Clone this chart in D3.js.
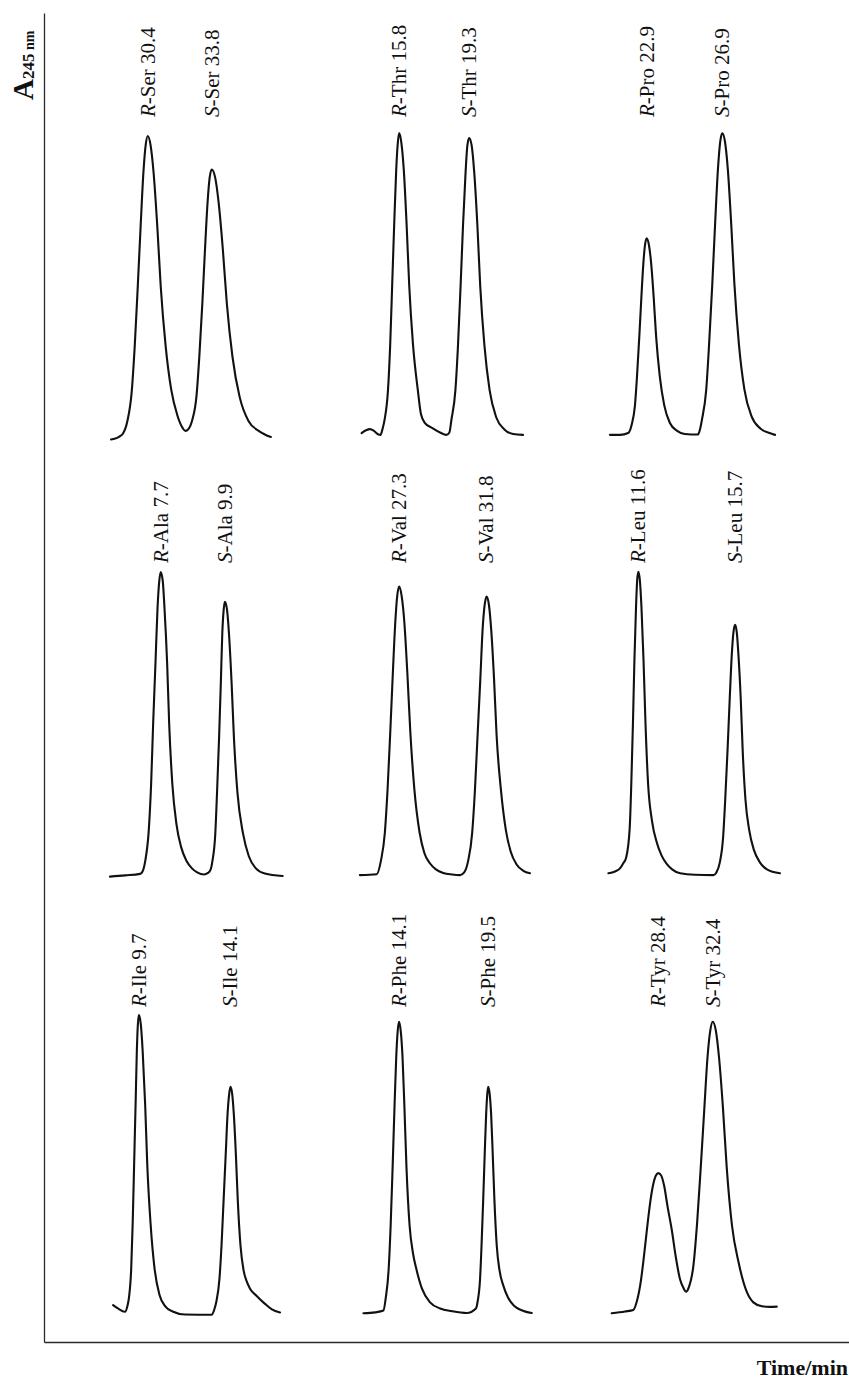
<!DOCTYPE html>
<html><head><meta charset="utf-8">
<script src="https://cdn.jsdelivr.net/npm/d3@7"></script>
<style>
html,body{margin:0;padding:0;background:#fff;}
svg{display:block;}
text{font-family:"Liberation Serif","Times New Roman",serif;fill:#111;}
</style></head><body>
<svg id="chart" width="849" height="1380"></svg>
<script>
// ---- data ----
const amino = ["Ser","Thr","Pro","Ala","Val","Leu","Ile","Phe","Tyr"];
const retR  = [30.4, 15.8, 22.9, 7.7, 27.3, 11.6, 9.7, 14.1, 28.4];
const retS  = [33.8, 19.3, 26.9, 9.9, 31.8, 15.7, 14.1, 19.5, 32.4];
// time window (min) shown in each panel
const timeWindow = [[28.13,37.69],[13.59,22.59],[20.59,30.11],[5.79,11.96],[25.02,34.30],[10.10,17.73],[8.07,16.72],[11.43,22.34],[24.33,37.57]];
// traces: [time (min), relative A245]
const traceSer = [[28.45,-0.8],[28.77,-0.3],[28.93,0.3],[29.07,1],[29.31,5],[29.55,15],[29.71,30],[29.87,49.5],[30.02,69],[30.17,87],[30.29,96],[30.40,99],[30.55,96],[30.71,87],[30.91,69],[31.09,49.5],[31.35,30],[31.65,15.5],[31.98,7],[32.25,3],[32.40,2],[32.56,2.6],[32.76,5.5],[32.99,13.5],[33.14,26.5],[33.30,44],[33.44,61.6],[33.58,77.4],[33.69,85.4],[33.80,88],[33.98,85.4],[34.16,77.4],[34.39,61.6],[34.60,44],[34.90,26.4],[35.28,13.2],[35.75,5.3],[36.35,1.8],[36.94,0]];
const traceThr = [[13.92,1.3],[14.14,2.2],[14.34,2.6],[14.54,2.0],[14.74,0.9],[14.86,0.7],[14.97,2.7],[15.07,5.7],[15.24,15.5],[15.35,30.4],[15.45,50.2],[15.55,70],[15.65,87.8],[15.73,96.7],[15.80,100],[15.91,96.7],[16.03,87.8],[16.17,70],[16.30,50],[16.49,30.4],[16.73,15.5],[16.89,7.5],[17.09,4.6],[17.44,3],[17.84,1.5],[18.16,0.7],[18.31,1.5],[18.41,5.6],[18.61,15.4],[18.74,30.2],[18.87,49.8],[18.99,69.5],[19.12,87.2],[19.21,96],[19.30,98.3],[19.42,96],[19.55,87.2],[19.71,69.5],[19.85,49.8],[20.06,30.2],[20.32,15.4],[20.65,6.5],[21.06,2.5],[21.50,1],[21.99,0.7]];
const tracePro = [[20.96,0.7],[21.49,0.7],[21.92,1.3],[22.10,3.9],[22.28,10.4],[22.39,20.1],[22.51,33],[22.62,46],[22.73,57.6],[22.82,63.5],[22.90,65.4],[23.01,63.5],[23.13,57.6],[23.27,46],[23.40,33],[23.59,20.1],[23.83,10.4],[24.13,4.6],[24.51,2],[24.91,1],[25.61,0.8],[25.72,2.5],[25.82,5.6],[26.05,15.6],[26.20,30.4],[26.37,50.3],[26.52,70.2],[26.67,88.2],[26.79,97.2],[26.90,99.9],[27.04,97.2],[27.19,88.2],[27.37,70.2],[27.54,50.3],[27.78,30.4],[28.07,15.6],[28.46,6.6],[28.93,2.7],[29.44,1.2],[29.69,0.7]];
const traceAla = [[5.96,-0.2],[6.48,0.2],[6.99,0.7],[7.06,1.2],[7.17,5],[7.29,15],[7.37,30],[7.44,50],[7.52,70],[7.59,88],[7.65,97],[7.70,100],[7.77,97],[7.83,88],[7.92,70],[7.99,50],[8.10,30],[8.24,17],[8.40,9.5],[8.58,5],[8.77,2.5],[8.95,1.2],[9.18,0.5],[9.32,1],[9.41,2.1],[9.47,4.8],[9.57,13.8],[9.63,27.4],[9.70,45.4],[9.76,63.4],[9.81,79.7],[9.86,87.8],[9.90,90.2],[9.97,87.8],[10.04,79.7],[10.13,63.4],[10.21,45.4],[10.33,27.4],[10.52,14],[10.72,6.5],[10.96,2.5],[11.27,0.8],[11.88,0]];
const traceVal = [[25.27,0.3],[26.14,0.6],[26.35,4.8],[26.56,14.3],[26.70,28.6],[26.84,47.6],[26.97,66.6],[27.10,83.8],[27.20,92.3],[27.30,95.2],[27.42,92.3],[27.56,83.8],[27.72,66.6],[27.87,47.6],[28.08,28.6],[28.35,14.3],[28.60,7.5],[28.88,4.2],[29.19,2.2],[29.57,1],[30.02,0.5],[30.43,0.3],[30.65,1.2],[30.85,4.9],[31.06,14.1],[31.20,27.9],[31.34,46.3],[31.48,64.6],[31.60,81.2],[31.71,89.4],[31.80,91.9],[31.92,89.4],[32.04,81.2],[32.19,64.6],[32.32,46.3],[32.55,27.9],[32.80,15],[33.05,8],[33.35,3.8],[33.70,1.7],[34.04,0.9]];
const traceLeu = [[10.33,0.9],[10.61,1.5],[10.82,2.5],[10.96,4.2],[11.08,6],[11.23,15.5],[11.30,30.5],[11.37,50.5],[11.43,70.5],[11.50,88.5],[11.55,97.5],[11.60,100.1],[11.66,97.5],[11.73,88.5],[11.82,70.5],[11.90,50.5],[12.01,30.5],[12.18,18],[12.38,11],[12.58,6.8],[12.80,4],[13.03,2.2],[13.37,0.9],[14.00,0.4],[14.78,0.3],[14.90,1.1],[15.05,4.4],[15.19,12.6],[15.28,25],[15.38,41.5],[15.47,58],[15.56,72.9],[15.63,80.2],[15.70,82.6],[15.77,80.2],[15.84,72.9],[15.94,58],[16.02,41.5],[16.14,25],[16.30,15],[16.50,8.5],[16.75,4.5],[17.05,2.2],[17.60,0.9]];
const traceIle = [[8.46,2.6],[8.69,1.5],[9.03,0.4],[9.15,2.4],[9.22,5],[9.33,14.7],[9.40,29.4],[9.47,49],[9.54,68.6],[9.60,86.2],[9.65,95],[9.70,98],[9.79,95],[9.88,86.2],[10.00,68.6],[10.10,49],[10.26,29.4],[10.45,14.7],[10.69,5.9],[10.99,2],[11.32,0.5],[11.91,-0.5],[13.20,-0.6],[13.31,0.9],[13.42,3.7],[13.57,11.2],[13.67,22.3],[13.77,37.2],[13.87,52],[13.96,65.5],[14.04,72.2],[14.10,74.4],[14.18,72.2],[14.26,65.5],[14.36,52],[14.45,37.2],[14.58,22.3],[14.73,14],[14.88,10.4],[15.04,8],[15.36,5.6],[15.76,3],[16.09,1.2],[16.48,0.2]];
const tracePhe = [[11.94,-0.1],[12.65,0.2],[13.15,0.8],[13.29,4.8],[13.47,14.4],[13.59,28.7],[13.71,47.9],[13.82,67],[13.93,84.3],[14.02,92.9],[14.10,95.8],[14.20,92.9],[14.31,84.3],[14.43,67],[14.55,47.9],[14.74,28.7],[14.95,19.5],[15.17,14],[15.49,8],[15.98,3.5],[16.59,1.5],[17.31,0.6],[18.20,0],[18.76,1.5],[18.86,3.7],[19.01,11.2],[19.10,22.3],[19.20,37.2],[19.29,52],[19.38,65.5],[19.45,72.2],[19.50,74.4],[19.59,72.2],[19.68,65.5],[19.78,52],[19.88,37.2],[20.02,22.3],[20.19,14],[20.42,9],[20.71,5],[21.07,2.4],[21.49,1],[22.14,0]];
const traceTyr = [[24.97,-0.1],[25.95,0.5],[26.56,1],[26.83,4],[27.13,11],[27.35,19],[27.55,27],[27.79,36],[28.01,42],[28.23,45.3],[28.40,46],[28.60,45.3],[28.82,42],[29.08,35],[29.39,27.3],[29.70,18],[30.00,11],[30.25,8.2],[30.44,7],[30.62,8.2],[30.99,16],[31.25,29.5],[31.52,47.9],[31.78,67],[32.02,84.3],[32.22,92.9],[32.40,95.8],[32.63,92.9],[32.86,84.3],[33.16,67],[33.43,47.9],[33.82,28.7],[34.31,16.5],[34.90,7],[35.39,3.5],[36.03,2.2],[36.61,2],[37.11,2.1]];
const traces = [traceSer, traceThr, tracePro, traceAla, traceVal, traceLeu, traceIle, tracePhe, traceTyr];

// ---- layout ----
const W = 849, H = 1380;
const colLeft = [105, 355, 603], colWidth = 180;
const rowBase = [437, 876, 1313], rowHeight = 304;
const labelBottom = [117, 563, 1007];

const svg = d3.select("#chart");

// frame axes (no ticks)
const yFrame = d3.scaleLinear().domain([0, 1]).range([1342, 13]);
const xFrame = d3.scaleLinear().domain([0, 1]).range([44, W]);
const gy = svg.append("g").attr("transform", "translate(44,0)")
  .call(d3.axisLeft(yFrame).tickValues([]).tickSizeOuter(0));
const gx = svg.append("g").attr("transform", "translate(0,1342)")
  .call(d3.axisBottom(xFrame).tickValues([]).tickSizeOuter(0));
[gy, gx].forEach(g => g.select(".domain").attr("stroke", "#2a2a2a").attr("stroke-width", 1.3));

// axis titles
const at = svg.append("text")
  .attr("transform", "translate(33,100) rotate(-90)")
  .attr("font-weight", "bold");
at.append("tspan").attr("font-size", 29).text("A");
at.append("tspan").attr("font-size", 17).attr("dy", 1).text("245");
at.append("tspan").attr("font-size", 14).text(" nm");

svg.append("text").attr("x", 848).attr("y", 1375)
  .attr("text-anchor", "end").attr("font-weight", "bold").attr("font-size", 22)
  .text("Time/min");

// panels
traces.forEach((tr, i) => {
  const col = i % 3, row = Math.floor(i / 3);
  const x = d3.scaleLinear().domain(timeWindow[i]).range([colLeft[col], colLeft[col] + colWidth]);
  const y = d3.scaleLinear().domain([0, 100]).range([rowBase[row], rowBase[row] - rowHeight]);
  const line = d3.line().x(d => x(d[0])).y(d => y(d[1])).curve(d3.curveMonotoneX);
  const g = svg.append("g");
  g.append("path").datum(tr).attr("d", line)
    .attr("fill", "none").attr("stroke", "#111").attr("stroke-width", 2.1)
    .attr("stroke-linejoin", "round").attr("stroke-linecap", "round");
  [["R", retR[i]], ["S", retS[i]]].forEach(([cfg, t]) => {
    const txt = g.append("text")
      .attr("transform", `translate(${x(t)},${labelBottom[row]}) rotate(-90)`)
      .attr("dy", "0.33em").attr("font-size", 21);
    txt.append("tspan").attr("font-style", "italic").text(cfg);
    txt.append("tspan").text(`-${amino[i]} ${t.toFixed(1)}`);
  });
});
</script>
</body></html>
